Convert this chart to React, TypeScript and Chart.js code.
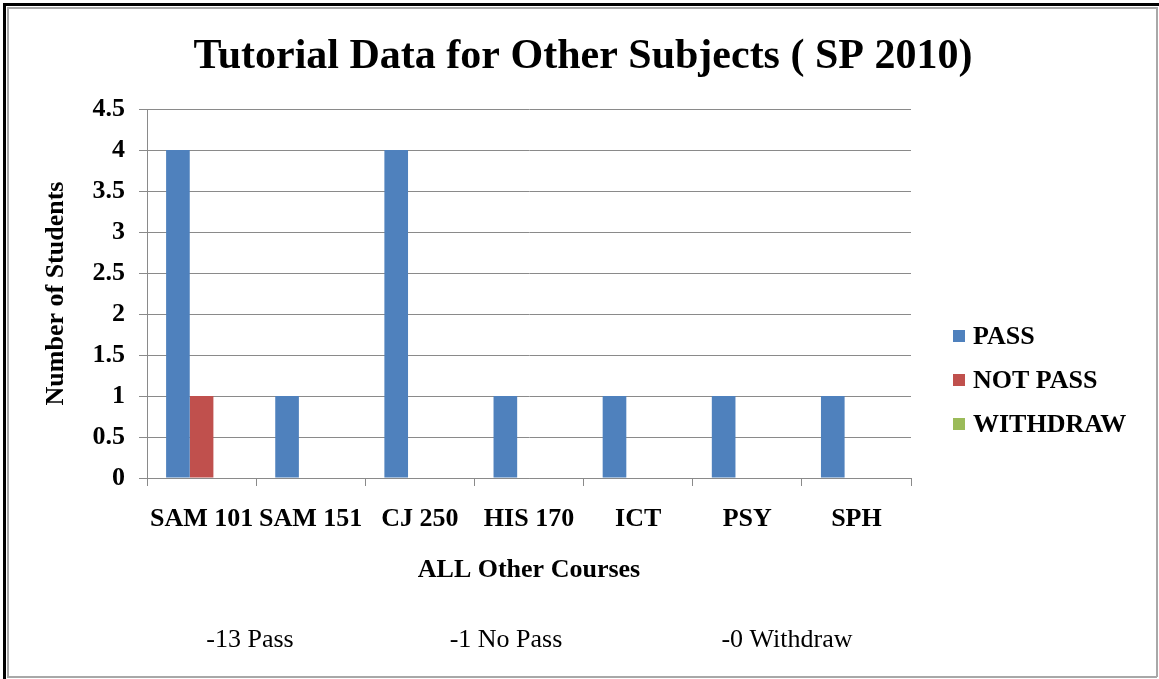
import React, { useEffect, useRef } from "react";
import { Chart, registerables } from "chart.js";

Chart.register(...registerables);

const chartTitle = "Tutorial Data for Other Subjects ( SP 2010)";
const xAxisTitle = "ALL Other Courses";
const yAxisTitle = "Number of Students";
const categories = ["SAM 101", "SAM 151", "CJ 250", "HIS 170", "ICT", "PSY", "SPH"];
const seriesNames = ["PASS", "NOT PASS", "WITHDRAW"];
const passValues = [4, 1, 4, 1, 1, 1, 1];
const notPassValues = [1, 0, 0, 0, 0, 0, 0];
const withdrawValues = [0, 0, 0, 0, 0, 0, 0];
const seriesColors = ["#4F81BD", "#C0504D", "#9BBB59"];
const footerNotes = ["-13 Pass", "-1 No Pass", "-0 Withdraw"];
const footerCenters = [250, 506, 787];

const SERIF = "'Liberation Serif', 'Times New Roman', serif";
const GRID = "#8a8a8a";
const boldFont = { family: SERIF, size: 26, weight: "bold" as const };

const decorPlugin = {
  id: "decor",
  beforeDraw(chart: any) {
    const { ctx, width, height } = chart;
    ctx.save();
    ctx.fillStyle = "#ffffff";
    ctx.fillRect(0, 0, width, height);
    // outer black frame (top + left)
    ctx.fillStyle = "#000000";
    ctx.fillRect(3, 3, width - 3, 3);
    ctx.fillRect(3, 3, 3, height - 3);
    // inner grey frame
    ctx.fillStyle = "#a8a8a8";
    ctx.fillRect(7, 7, width - 9, 2);
    ctx.fillRect(7, 7, 2, height - 9);
    ctx.fillRect(width - 3, 7, 2, height - 9);
    ctx.fillRect(7, height - 3, width - 9, 2);
    ctx.restore();
  },
  afterDraw(chart: any) {
    const { ctx } = chart;
    ctx.save();
    // title
    ctx.fillStyle = "#000";
    ctx.font = `bold 42px ${SERIF}`;
    ctx.textAlign = "center";
    ctx.textBaseline = "alphabetic";
    ctx.fillText(chartTitle, 583, 68);
    // legend
    ctx.font = `bold 26px ${SERIF}`;
    ctx.textAlign = "left";
    chart.data.datasets.forEach((ds: any, i: number) => {
      const cy = 336 + i * 44;
      ctx.fillStyle = ds.backgroundColor;
      ctx.fillRect(953, cy - 6, 12, 12);
      ctx.fillStyle = "#000";
      ctx.fillText(ds.label, 973, cy + 8);
    });
    // footer notes
    ctx.font = `26px ${SERIF}`;
    ctx.textAlign = "center";
    footerNotes.forEach((t, i) => {
      ctx.fillText(t, footerCenters[i], 647);
    });
    ctx.restore();
  },
};

export default function App() {
  const ref = useRef<HTMLCanvasElement | null>(null);

  useEffect(() => {
    document.body.style.margin = "0";
    if (!ref.current) return;
    const chart = new Chart(ref.current, {
      type: "bar",
      data: {
        labels: categories,
        datasets: [
          { label: seriesNames[0], data: passValues, backgroundColor: seriesColors[0] },
          { label: seriesNames[1], data: notPassValues, backgroundColor: seriesColors[1] },
          { label: seriesNames[2], data: withdrawValues, backgroundColor: seriesColors[2] },
        ],
      },
      options: {
        responsive: false,
        animation: false,
        datasets: { bar: { categoryPercentage: 0.65, barPercentage: 1.0, borderWidth: 0 } },
        layout: { padding: { left: 30, top: 109, right: 248, bottom: 91 } },
        plugins: {
          legend: { display: false },
          title: { display: false },
          tooltip: { enabled: false },
        },
        scales: {
          x: {
            offset: true,
            grid: {
              display: true,
              offset: true,
              drawOnChartArea: false,
              drawTicks: true,
              tickLength: 8,
              color: GRID,
            },
            border: { display: true, color: GRID },
            ticks: { color: "#000", font: boldFont, padding: 18, maxRotation: 0, autoSkip: false },
            title: {
              display: true,
              text: xAxisTitle,
              color: "#000",
              font: boldFont,
              padding: { top: 0, bottom: 2 },
            },
            afterFit: (s: any) => {
              s.height = 110;
            },
          },
          y: {
            min: 0,
            max: 4.5,
            ticks: {
              stepSize: 0.5,
              color: "#000",
              font: boldFont,
              padding: 14,
              callback: (v: any) => String(Number(v)),
            },
            grid: { color: GRID, tickLength: 8 },
            border: { display: true, color: GRID },
            title: {
              display: true,
              text: yAxisTitle,
              color: "#000",
              font: boldFont,
              padding: { top: 11, bottom: 0 },
            },
            afterFit: (s: any) => {
              s.width = 117;
            },
          },
        },
      },
      plugins: [decorPlugin],
    } as any);
    return () => chart.destroy();
  }, []);

  return (
    <div style={{ width: 1159, height: 679 }}>
      <canvas ref={ref} width={1159} height={679} style={{ display: "block" }} />
    </div>
  );
}
